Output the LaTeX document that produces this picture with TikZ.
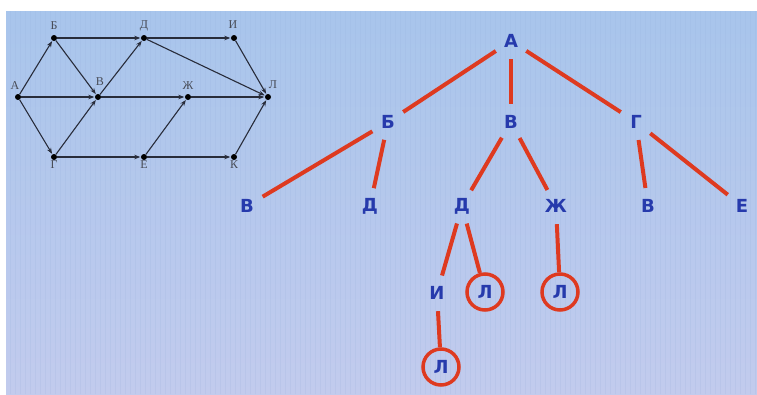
\documentclass[tikz,border=0pt]{standalone}
\usepackage{fontspec}
\setmainfont{Liberation Serif}
\newfontfamily\treefont{DejaVu Sans}
\usetikzlibrary{arrows.meta}
\definecolor{bgtop}{RGB}{168,197,236}
\definecolor{bgbot}{RGB}{194,203,237}
\definecolor{gridc}{RGB}{150,175,220}
\definecolor{tblue}{RGB}{38,58,172}
\definecolor{tred}{RGB}{222,58,32}
\definecolor{gline}{RGB}{40,44,58}
\begin{document}
\begin{tikzpicture}[x=1pt,y=-1pt,
  gdot/.style={circle,fill=black,inner sep=0pt,minimum size=6pt},
  glab/.style={font=\fontsize{12}{12}\selectfont,text=gline!85!white,inner sep=0pt},
  gedge/.style={gline,line width=1.1pt,-{Stealth[length=6pt,width=4.5pt]},shorten >=0.5pt},
  tlab/.style={font=\treefont\bfseries\fontsize{18}{18}\selectfont,text=tblue,circle,inner sep=0pt,minimum size=28pt},
  tleaf/.style={font=\treefont\bfseries\fontsize{18}{18}\selectfont,text=tblue,circle,draw=tred,line width=3.5pt,inner sep=0pt,minimum size=36pt},
  tedge/.style={tred,line width=4pt,shorten <=4pt,shorten >=4pt},
  tledge/.style={tred,line width=4pt,shorten <=4pt}
]
\useasboundingbox (0,0) rectangle (757,394);
\fill[white] (0,0) rectangle (757,394);
\shade[top color=bgtop,bottom color=bgbot] (6,11) rectangle (757,394);
\begin{scope}
  \clip (6,11) rectangle (757,394);
  \draw[gridc,line width=0.4pt,opacity=0.18,step=5] (5,10) grid (757,394);
\end{scope}

% small graph
\node[gdot] (gA) at (18,97) {};
\node[gdot] (gB) at (54,38) {};
\node[gdot] (gD) at (144,38) {};
\node[gdot] (gI) at (234,38) {};
\node[gdot] (gV) at (98,97) {};
\node[gdot] (gZh) at (188,97) {};
\node[gdot] (gL) at (268,97) {};
\node[gdot] (gG) at (54,157) {};
\node[gdot] (gE) at (144,157) {};
\node[gdot] (gK) at (234,157) {};

\node[glab] (lA) at (15,86) {А};
\node[glab] (lB) at (54,26) {Б};
\node[glab] (lD) at (144,26) {Д};
\node[glab] (lI) at (233,25) {И};
\node[glab] (lV) at (100,82) {В};
\node[glab] (lZh) at (188,86) {Ж};
\node[glab] (lL) at (273,85) {Л};
\node[glab] (lG) at (54,165) {Г};
\node[glab] (lE) at (144,165) {Е};
\node[glab] (lK) at (234,165) {К};

\draw[gedge] (gA) -- (gB);
\draw[gedge] (gA) -- (gV);
\draw[gedge] (gA) -- (gG);
\draw[gedge] (gB) -- (gD);
\draw[gedge] (gB) -- (gV);
\draw[gedge] (gD) -- (gI);
\draw[gedge] (gD) -- (gL);
\draw[gedge] (gV) -- (gD);
\draw[gedge] (gV) -- (gZh);
\draw[gedge] (gZh) -- (gL);
\draw[gedge] (gI) -- (gL);
\draw[gedge] (gG) -- (gV);
\draw[gedge] (gG) -- (gE);
\draw[gedge] (gE) -- (gZh);
\draw[gedge] (gE) -- (gK);
\draw[gedge] (gK) -- (gL);

% tree
\node[tlab] (tA) at (511,41) {А};
\node[tlab] (tB1) at (388,122) {Б};
\node[tlab] (tV1) at (511,122) {В};
\node[tlab] (tG1) at (636,122) {Г};
\node[tlab] (tV2) at (247,206) {В};
\node[tlab] (tD1) at (370,206) {Д};
\node[tlab] (tD2) at (462,206) {Д};
\node[tlab] (tZh) at (556,206) {Ж};
\node[tlab] (tV3) at (648,206) {В};
\node[tlab] (tE) at (742,206) {Е};
\node[tlab] (tI) at (437,293) {И};
\node[tleaf] (tL1) at (485,292) {Л};
\node[tleaf] (tL2) at (560,292) {Л};
\node[tleaf] (tL3) at (441,367) {Л};

\draw[tedge] (tA) -- (tB1);
\draw[tedge] (tA) -- (tV1);
\draw[tedge] (tA) -- (tG1);
\draw[tedge] (tB1) -- (tV2);
\draw[tedge] (tB1) -- (tD1);
\draw[tedge] (tV1) -- (tD2);
\draw[tedge] (tV1) -- (tZh);
\draw[tedge] (tG1) -- (tV3);
\draw[tedge] (tG1) -- (tE);
\draw[tedge] (tD2) -- (tI);
\draw[tledge] (tD2) -- (tL1);
\draw[tledge] (tZh) -- (tL2);
\draw[tledge] (tI) -- (tL3);
\end{tikzpicture}
\end{document}
